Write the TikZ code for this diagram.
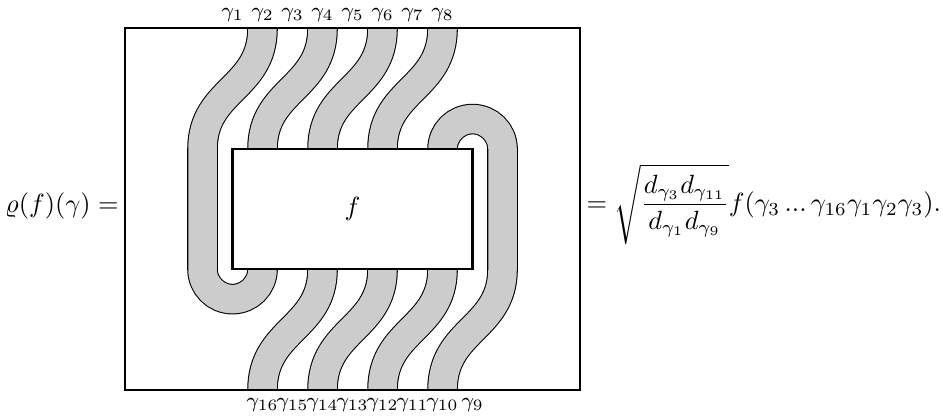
\documentclass[tikz,border=0pt]{standalone}
\usepackage{amsmath}
\begin{document}
\begin{tikzpicture}[x=0.4cm, y=0.4cm,
	strand/.style={double=gray!40, double distance=0.38cm, line width=0.4pt},
	lbl/.style={font=\footnotesize, inner sep=0pt}]
	\useasboundingbox (-11.75,-6.9) rectangle (19.68,6.97);
	% ribbons
	\draw[strand] (-3,6.03) .. controls (-3,4) and (-5,4) .. (-5,2) -- (-5,-2) arc (180:360:1) -- (-3,-1);
	\draw[strand] (-1,6.03) .. controls (-1,4) and (-3,4) .. (-3,2) -- (-3,1);
	\draw[strand] (1,6.03) .. controls (1,4) and (-1,4) .. (-1,2) -- (-1,1);
	\draw[strand] (3,6.03) .. controls (3,4) and (1,4) .. (1,2) -- (1,1);
	\draw[strand] (3,1) -- (3,2) arc (180:0:1) -- (5,-2) .. controls (5,-4) and (3,-4) .. (3,-6.03);
	\draw[strand] (-1,-1) -- (-1,-2) .. controls (-1,-4) and (-3,-4) .. (-3,-6.03);
	\draw[strand] (1,-1) -- (1,-2) .. controls (1,-4) and (-1,-4) .. (-1,-6.03);
	\draw[strand] (3,-1) -- (3,-2) .. controls (3,-4) and (1,-4) .. (1,-6.03);
	% boxes
	\node[draw, thick, fill=white, minimum width=3.2cm, minimum height=1.6cm] (f) at (0,0) {$f$};
	\node[draw, thick, minimum width=6.056cm, minimum height=4.824cm] (frame) at (0,0) {};
	% labels
	\node[lbl] (g1) at (-4,6.47) {$\gamma_{1}$};
	\node[lbl] (g2) at (-3,6.47) {$\gamma_{2}$};
	\node[lbl] (g3) at (-2,6.47) {$\gamma_{3}$};
	\node[lbl] (g4) at (-1,6.47) {$\gamma_{4}$};
	\node[lbl] (g5) at (0,6.47) {$\gamma_{5}$};
	\node[lbl] (g6) at (1,6.47) {$\gamma_{6}$};
	\node[lbl] (g7) at (2,6.47) {$\gamma_{7}$};
	\node[lbl] (g8) at (3,6.47) {$\gamma_{8}$};
	\node[lbl] (g9) at (4,-6.53) {$\gamma_{9}$};
	\node[lbl] (g10) at (3,-6.53) {$\gamma_{10}$};
	\node[lbl] (g11) at (2,-6.53) {$\gamma_{11}$};
	\node[lbl] (g12) at (1,-6.53) {$\gamma_{12}$};
	\node[lbl] (g13) at (0,-6.53) {$\gamma_{13}$};
	\node[lbl] (g14) at (-1,-6.53) {$\gamma_{14}$};
	\node[lbl] (g15) at (-2,-6.53) {$\gamma_{15}$};
	\node[lbl] (g16) at (-3,-6.53) {$\gamma_{16}$};
	% equation
	\node[anchor=base east, inner sep=2pt] (lhs) at (frame.west |- 0,-0.1) {$\varrho(f)(\gamma)=$};
	\node[anchor=base west, inner sep=2pt] (rhs) at (frame.east |- 0,-0.07)
		{$=\sqrt{\dfrac{d_{\gamma_3}d_{\gamma_{11}}}{d_{\gamma_1}d_{\gamma_9}}}f(\gamma_3\,...\,\gamma_{16}\gamma_1\gamma_2\gamma_3).$};
\end{tikzpicture}
\end{document}
